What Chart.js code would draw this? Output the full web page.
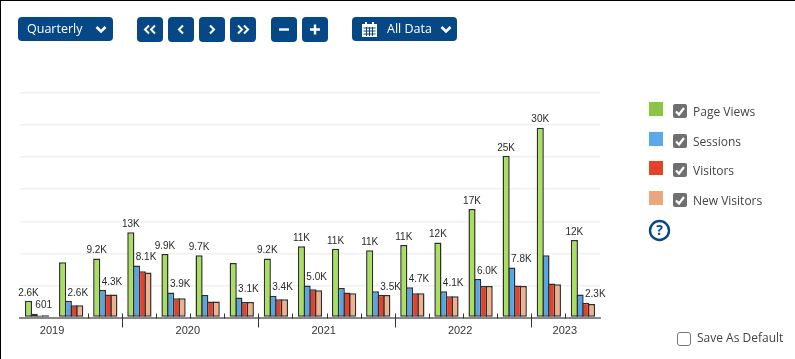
<!DOCTYPE html>
<html>
<head>
<meta charset="utf-8">
<script src="https://cdn.jsdelivr.net/npm/chart.js@4"></script>
<style>
  html, body { margin: 0; padding: 0; background: #fff; }
  body { width: 795px; height: 359px; position: relative; overflow: hidden; font-family: "Open Sans", sans-serif; }
  #frame { position: absolute; left: 0; top: 0; width: 795px; height: 358px; border-top: 1px solid #000; border-left: 1px solid #000; }
  #chartBox { position: absolute; left: 0; top: 0; width: 795px; height: 359px; }
  .btn { position: absolute; top: 17px; height: 25px; background: #064885; border-radius: 4px; color: #fff; font-size: 12.5px; line-height: 24px; }
  .btn svg { position: absolute; }
  .btn span { position: absolute; top: 0; white-space: nowrap; }
  .swatch { position: absolute; left: 649px; width: 14px; height: 14px; }
  .check { position: absolute; left: 673px; width: 14px; height: 14px; background: #6f6f6f; border-radius: 2px; }
  .legendText { position: absolute; left: 693px; font-size: 12px; line-height: 16px; color: #444; white-space: nowrap; }
</style>
</head>
<body>
<div id="chartBox"><canvas id="trafficChart" width="795" height="359"></canvas></div>
<div id="frame"></div>

<div class="btn" style="left:18px;width:95px;height:24px">
  <span style="left:9px">Quarterly</span>
  <svg style="left:77px;top:8px" width="12" height="9" viewBox="0 0 12 9"><path d="M1.5 2 L6 6.5 L10.5 2" fill="none" stroke="#fff" stroke-width="2.6"/></svg>
</div>
<div class="btn" style="left:137px;width:26px"><svg style="left:6px;top:7px" width="14" height="11" viewBox="0 0 14 11"><path d="M6 1.5 L2 5.5 L6 9.5 M12 1.5 L8 5.5 L12 9.5" fill="none" stroke="#fff" stroke-width="2"/></svg></div>
<div class="btn" style="left:168px;width:26px"><svg style="left:9px;top:7px" width="8" height="11" viewBox="0 0 8 11"><path d="M6 1.5 L2 5.5 L6 9.5" fill="none" stroke="#fff" stroke-width="2.1"/></svg></div>
<div class="btn" style="left:199px;width:26px"><svg style="left:9px;top:7px" width="8" height="11" viewBox="0 0 8 11"><path d="M2 1.5 L6 5.5 L2 9.5" fill="none" stroke="#fff" stroke-width="2.1"/></svg></div>
<div class="btn" style="left:230px;width:26px"><svg style="left:6px;top:7px" width="14" height="11" viewBox="0 0 14 11"><path d="M2 1.5 L6 5.5 L2 9.5 M8 1.5 L12 5.5 L8 9.5" fill="none" stroke="#fff" stroke-width="2"/></svg></div>
<div class="btn" style="left:271px;width:26px"><svg style="left:7px;top:7px" width="12" height="11" viewBox="0 0 12 11"><path d="M1 5.5 H11" fill="none" stroke="#fff" stroke-width="2.4"/></svg></div>
<div class="btn" style="left:302px;width:26px"><svg style="left:7px;top:7px" width="12" height="11" viewBox="0 0 12 11"><path d="M1 5.5 H11 M6 0.5 V10.5" fill="none" stroke="#fff" stroke-width="2.4"/></svg></div>
<div class="btn" style="left:352px;width:105px;height:24px">
  <svg style="left:10px;top:4px" width="15" height="16" viewBox="0 0 15 16">
    <path d="M0 3 H15 V16 H0 Z M3 1 H5 V4 H3 Z M10 1 H12 V4 H10 Z" fill="#fff"/>
    <path d="M1.5 7 H13.5 M1.5 10 H13.5 M1.5 13 H13.5 M4.5 6 V15 M7.5 6 V15 M10.5 6 V15" stroke="#064885" stroke-width="1"/>
  </svg>
  <span style="left:35px">All Data</span>
  <svg style="left:88px;top:8px" width="12" height="9" viewBox="0 0 12 9"><path d="M1.5 2 L6 6.5 L10.5 2" fill="none" stroke="#fff" stroke-width="2.6"/></svg>
</div>

<div id="legend"></div>

<svg style="position:absolute;left:648px;top:219px" width="23" height="23" viewBox="0 0 23 23">
  <circle cx="11.5" cy="11.5" r="9.5" fill="none" stroke="#064885" stroke-width="2.4"/>
  <text x="11.5" y="16.3" text-anchor="middle" font-family="Open Sans" font-weight="700" font-size="14" fill="#064885">?</text>
</svg>

<div style="position:absolute;left:677px;top:332px;width:12px;height:12px;border:1px solid #777;border-radius:3px"></div>
<div class="legendText" style="left:697px;top:330px">Save As Default</div>

<script>
const quarters = [
    "2019 Q2", "2019 Q3", "2019 Q4",
    "2020 Q1", "2020 Q2", "2020 Q3", "2020 Q4",
    "2021 Q1", "2021 Q2", "2021 Q3", "2021 Q4",
    "2022 Q1", "2022 Q2", "2022 Q3", "2022 Q4",
    "2023 Q1", "2023 Q2",
];
const pageViews = [2600, 8600, 9200, 13300, 9900, 9700, 8500, 9200, 11100, 10700, 10500, 11300, 11700, 16900, 25200, 29600, 12100];
const sessions = [601, 2600, 4300, 8100, 3900, 3500, 3100, 3400, 5000, 4600, 4100, 4700, 4100, 6000, 7800, 9700, 3600];
const visitors = [300, 1900, 3600, 7200, 3000, 2500, 2400, 2850, 4400, 3900, 3500, 3800, 3300, 4900, 5000, 5300, 2300];
const newVisitors = [350, 1900, 3600, 7000, 3000, 2500, 2400, 2850, 4250, 3800, 3500, 3800, 3300, 4900, 4900, 5200, 2100];

// which groups get which value label (same thing the picture shows)
const noTopLabel = [1, 6];
const sideLabelSeries = [1, 1, 1, 1, 1, null, 1, 1, 1, null, 2, 1, 1, 1, 1, null, 2];

const yearLabels = ["2019", "2020", "2021", "2022", "2023"];
const yearCenters = [0.94, 4.92, 8.9, 12.9, 15.97];
const yTicks = [0, 5000, 10000, 15000, 20000, 25000, 30000, 35000];

const seriesNames = ["Page Views", "Sessions", "Visitors", "New Visitors"];
const seriesFills = ["#a8e05e", "#58a5e4", "#e5412a", "#efb08c"];
const legendColors = ["#8cc444", "#5aa9e8", "#e54329", "#e8a77f"];
const legendTops = [102, 132, 161, 191];

function shortNumber(v) {
    if (v < 1000) return String(v);
    if (v >= 10000) return Math.round(v / 1000) + "K";
    return (v / 1000).toFixed(1) + "K";
}

// quarter separators on the axis, long one at the start of each year
const quarterTicks = {
    id: "quarterTicks",
    afterDatasetsDraw(chart) {
        const ctx = chart.ctx;
        const x = chart.scales.x;
        const bottom = chart.chartArea.bottom;
        ctx.save();
        ctx.strokeStyle = "#333";
        ctx.lineWidth = 1;
        quarters.forEach((q, i) => {
            if (i < 2) return;
            const px = Math.floor((x.getPixelForValue(i - 1) + x.getPixelForValue(i)) / 2) + 0.5;
            ctx.beginPath();
            ctx.moveTo(px, bottom - 4);
            ctx.lineTo(px, bottom + (q.endsWith("Q1") ? 10 : 1));
            ctx.stroke();
        });
        ctx.restore();
    },
};

// value labels over the bars
const valueLabels = {
    id: "valueLabels",
    afterDatasetsDraw(chart) {
        const ctx = chart.ctx;
        const y = chart.scales.y;
        ctx.save();
        ctx.font = '10px "Liberation Sans"';
        ctx.fillStyle = "#2a2a2a";
        ctx.textAlign = "center";
        ctx.textBaseline = "middle";
        quarters.forEach((q, i) => {
            if (!noTopLabel.includes(i)) {
                const bar = chart.getDatasetMeta(0).data[i];
                ctx.fillText(shortNumber(pageViews[i]), bar.x, y.getPixelForValue(pageViews[i]) - 8);
            }
            const s = sideLabelSeries[i];
            if (s !== null) {
                const bar = chart.getDatasetMeta(s).data[i];
                const v = chart.data.datasets[s].data[i];
                ctx.fillText(shortNumber(v), bar.x + 9.5, y.getPixelForValue(v) - 8);
            }
        });
        ctx.restore();
    },
};

new Chart(document.getElementById("trafficChart"), {
    type: "bar",
    data: {
        labels: quarters,
        datasets: [pageViews, sessions, visitors, newVisitors].map((values, i) => ({
            label: seriesNames[i],
            data: values,
            backgroundColor: seriesFills[i],
            borderColor: "#2e2e2e",
            borderWidth: 1.5,
            borderSkipped: false,
            barPercentage: 1.25,
            categoryPercentage: 0.67,
        })),
    },
    options: {
        responsive: false,
        animation: false,
        layout: { padding: { left: 20, right: 195, top: 93, bottom: 0 } },
        plugins: { legend: { display: false }, title: { display: false }, tooltip: { enabled: false } },
        scales: {
            x: {
                ticks: { display: false },
                grid: { display: false, drawTicks: false },
                border: { color: "#888", width: 2 },
                afterFit(scale) {
                    scale.height = 0;
                },
            },
            years: {
                type: "linear",
                axis: "x",
                position: "bottom",
                offset: false,
                min: 0,
                max: quarters.length,
                afterBuildTicks(scale) {
                    scale.ticks = yearCenters.map((v) => ({ value: v }));
                },
                ticks: {
                    callback: (v) => yearLabels[yearCenters.indexOf(v)],
                    autoSkip: false,
                    maxRotation: 0,
                    padding: 7,
                    color: "#333",
                    font: { family: "Liberation Sans", size: 11 },
                },
                grid: { display: false, drawTicks: false, offset: false },
                border: { display: false },
                afterFit(scale) {
                    scale.height = 41.5;
                },
            },
            y: {
                min: 0,
                max: 35000,
                afterBuildTicks(scale) {
                    scale.ticks = yTicks.map((v) => ({ value: v }));
                },
                ticks: { display: false },
                grid: { color: "#f1f1f1", lineWidth: 1.5, drawTicks: false },
                border: { display: false },
            },
        },
    },
    plugins: [valueLabels, quarterTicks],
});

// legend on the right
const legend = document.getElementById("legend");
seriesNames.forEach((name, i) => {
    const top = legendTops[i];
    legend.innerHTML += `<div class="swatch" style="top:${top}px;background:${legendColors[i]}"></div>
        <div class="check" style="top:${top + 2}px"><svg width="14" height="14" viewBox="0 0 14 14" style="display:block"><path d="M3 7.5 L6 10.5 L11 4" fill="none" stroke="#fff" stroke-width="2.2"/></svg></div>
        <div class="legendText" style="top:${top + 2}px">${name}</div>`;
});
</script>
</body>
</html>
